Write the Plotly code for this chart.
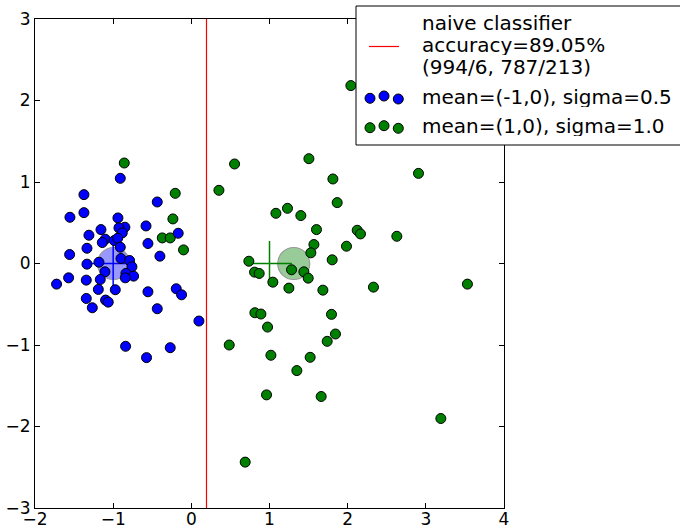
import plotly.graph_objects as go

# ---------------- data ----------------
blue_x = [-0.909, -1.374, -0.436, -1.553, -1.374, -0.939, -0.580, -0.850, -0.926, -1.156,
          -0.884, -1.310, -0.168, -1.101, -1.139, -0.986, -0.943, -0.555, -1.335, -0.909,
          -1.557, -0.402, -0.900, -0.790, -1.182, -1.335, -0.760, -1.105, -0.837, -0.739,
          -0.845, -1.570, -1.724, -1.344, -1.165, -1.190, -0.973, -0.555, -0.193, -0.125,
          -1.344, -1.097, -1.063, -1.267, -0.436, 0.097, -0.841, -0.270, -0.573]
blue_y = [1.045, 0.845, 0.755, 0.567, 0.624, 0.559, 0.461, 0.445, 0.437, 0.416,
          0.375, 0.347, 0.371, 0.298, 0.257, 0.282, 0.310, 0.245, 0.187, 0.200,
          0.110, 0.090, 0.061, 0.037, 0.016, -0.008, -0.041, -0.102, -0.122, -0.155,
          -0.176, -0.176, -0.253, -0.204, -0.196, -0.318, -0.322, -0.347, -0.310, -0.384,
          -0.429, -0.449, -0.474, -0.543, -0.555, -0.706, -1.016, -1.033, -1.155]

green_x = [-0.858, -0.206, -0.236, -0.372, -0.270, -0.100,
           0.553, 1.504, 2.906, 1.811, 0.353, 1.866, 1.082, 1.230, 1.401, 1.601,
           2.122, 2.164, 2.629, 1.568, 1.985, 1.529, 0.736, 1.802, 1.282, 1.440,
           1.495, 0.809, 0.868, 1.043, 1.248, 1.683, 2.330, 0.813, 0.890, 1.793,
           0.975, 1.844, 1.738, 0.485, 1.018, 1.520, 1.350, 0.962, 1.661,
           3.192, 0.689, 3.532, 2.041]
green_y = [1.233, 0.861, 0.547, 0.314, 0.314, 0.167,
           1.221, 1.286, 1.106, 1.037, 0.898, 0.747, 0.616, 0.677, 0.588, 0.416,
           0.408, 0.363, 0.334, 0.233, 0.212, 0.131, 0.028, 0.045, -0.077, -0.102,
           -0.180, -0.106, -0.122, -0.229, -0.302, -0.327, -0.290, -0.604, -0.620, -0.624,
           -0.780, -0.865, -0.955, -1.000, -1.126, -1.151, -1.314, -1.612, -1.632,
           -1.902, -2.437, -0.253, 2.183]

true_means_x = [-1.0, 1.0]
true_means_y = [0.0, 0.0]
est_means_x = [-0.995, 1.31]
est_means_y = [0.0, 0.0]
threshold_x = 0.194

x_range = [-2, 4]
y_range = [-3, 3]

legend_lines = ["naive classifier", "accuracy=89.05%", "(994/6, 787/213)"]
blue_label = "mean=(-1,0), sigma=0.5"
green_label = "mean=(1,0), sigma=1.0"

BLUE = "#0000ff"
GREEN = "#008000"
FONT = "DejaVu Sans"

fig = go.Figure()

# estimated-mean circles
for mx, my, c in zip(est_means_x, est_means_y, [BLUE, GREEN]):
    fig.add_trace(go.Scatter(x=[mx], y=[my], mode="markers", showlegend=False,
                             marker=dict(size=32, color=c, opacity=0.4,
                                         line=dict(color="black", width=1.2))))
# true-mean crosses
for mx, my, c in zip(true_means_x, true_means_y, [BLUE, GREEN]):
    fig.add_trace(go.Scatter(x=[mx], y=[my], mode="markers", showlegend=False,
                             marker=dict(symbol="cross-thin", size=32, color=c,
                                         line=dict(color=c, width=1.5))))

# threshold line
fig.add_trace(go.Scatter(x=[threshold_x, threshold_x], y=y_range, mode="lines",
                         name="naive classifier", showlegend=False,
                         line=dict(color="red", width=1.2)))

fig.add_trace(go.Scatter(x=green_x, y=green_y, mode="markers", name=green_label,
                         showlegend=False,
                         marker=dict(size=10, color=GREEN, line=dict(color="black", width=1))))
fig.add_trace(go.Scatter(x=blue_x, y=blue_y, mode="markers", name=blue_label,
                         showlegend=False,
                         marker=dict(size=10, color=BLUE, line=dict(color="black", width=1))))

# ---------------- manual legend (matplotlib style) ----------------
W, H = 680, 530
L, R, T, B = 35, 176, 19, 22
pw, ph = W - L - R, H - T - B


def px(xp):
    return (xp - L) / pw


def py(yp):
    return (H - B - yp) / ph


shapes = [dict(type="rect", xref="paper", yref="paper", x0=px(356), x1=px(720),
               y0=py(145), y1=py(6), line=dict(color="black", width=1),
               fillcolor="white", layer="above"),
          dict(type="line", xref="paper", yref="paper", x0=px(369), x1=px(399),
               y0=py(46.5), y1=py(46.5), line=dict(color="red", width=1.2), layer="above")]

dot_x = [370, 384, 398.3]
for color, ys in [(BLUE, [98.3, 96, 99]), (GREEN, [127.7, 125.7, 128.3])]:
    for dx, dy in zip(dot_x, ys):
        shapes.append(dict(type="circle", xref="paper", yref="paper",
                           xsizemode="pixel", ysizemode="pixel",
                           xanchor=px(dx), yanchor=py(dy), x0=-5, x1=5, y0=-5, y1=5,
                           fillcolor=color, line=dict(color="black", width=1),
                           layer="above"))

annotations = []
for txt, yc in zip(legend_lines + [blue_label, green_label], [23, 45.3, 67, 97, 126]):
    annotations.append(dict(text=txt, xref="paper", yref="paper", x=px(421), y=py(yc),
                            xanchor="left", yanchor="middle", showarrow=False,
                            height=20, valign="middle", borderpad=0,
                            font=dict(family=FONT, size=20, color="black")))

axis_common = dict(showgrid=False, zeroline=False, showline=True, linecolor="black",
                   linewidth=1, mirror="ticks", ticks="inside", ticklen=5,
                   tickcolor="black", tickwidth=1, dtick=1, automargin=False,
                   tickfont=dict(family=FONT, size=17, color="black"))

fig.update_layout(width=W, height=H, margin=dict(l=L, r=R, t=T, b=B),
                  paper_bgcolor="white", plot_bgcolor="white",
                  xaxis=dict(range=x_range, ticklabelstandoff=-4, **axis_common),
                  yaxis=dict(range=y_range, **axis_common),
                  shapes=shapes, annotations=annotations, showlegend=False)

fig.write_html("out.html")
